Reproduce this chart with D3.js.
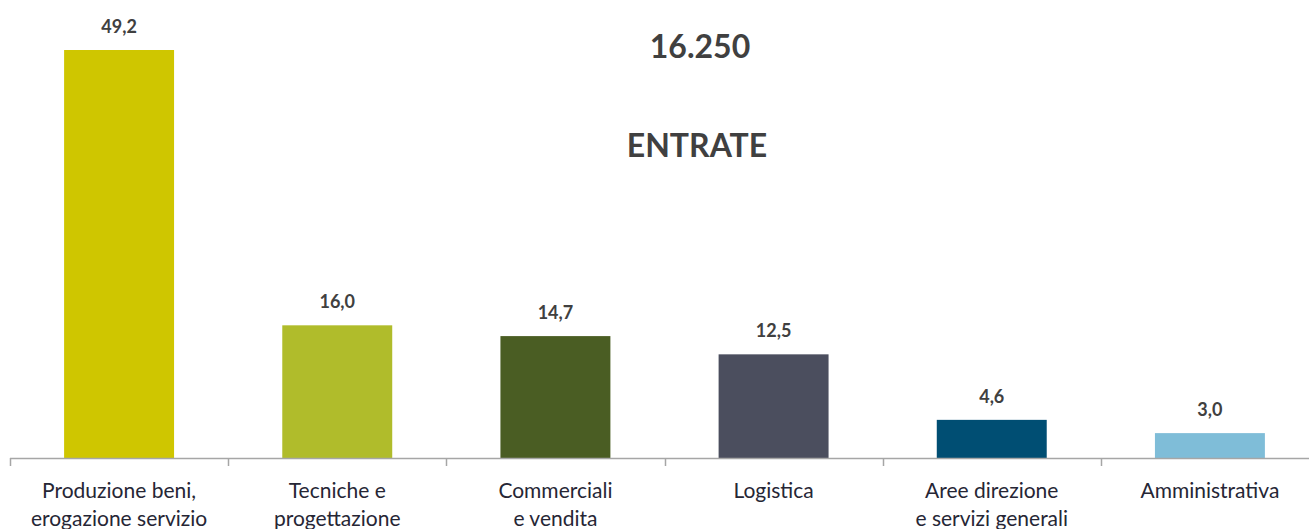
<!DOCTYPE html>
<html>
<head>
<meta charset="utf-8">
<script src="https://cdn.jsdelivr.net/npm/d3@7"></script>
<style>
    body { margin: 0; background: #fff; }
    svg text { font-family: Lato, "Open Sans", sans-serif; }
</style>
</head>
<body>
<div class="chart-container"></div>
<script>
const categories = [
    ['Produzione beni,', 'erogazione servizio'],
    ['Tecniche e', 'progettazione'],
    ['Commerciali', 'e vendita'],
    ['Logistica'],
    ['Aree direzione', 'e servizi generali'],
    ['Amministrativa'],
];
const values = [49.2, 16.0, 14.7, 12.5, 4.6, 3.0];
const barColors = ['#CFC600', '#B0BC2B', '#4A5D23', '#4B4E5E', '#004E73', '#7FBDD8'];
const totalLabel = '16.250';
const titleLabel = 'ENTRATE';

const width = 1309;
const height = 529;
const baseY = 458;

const svg = d3.select('.chart-container').append('svg')
    .attr('width', width)
    .attr('height', height);

const keys = categories.map((c, i) => i);

const x = d3.scaleBand()
    .domain(keys)
    .range([10, 1319])
    .paddingInner(0.496)
    .paddingOuter(0.248);

const y = d3.scaleLinear()
    .domain([0, 49.2])
    .range([baseY, 50]);

// bars
svg.append('g').selectAll('rect')
    .data(values)
    .enter()
    .append('rect')
    .attr('x', (d, i) => x(i))
    .attr('y', (d) => y(d))
    .attr('width', x.bandwidth())
    .attr('height', (d) => baseY - y(d))
    .attr('fill', (d, i) => barColors[i]);

// value labels
svg.append('g').selectAll('text')
    .data(values)
    .enter()
    .append('text')
    .attr('x', (d, i) => x(i) + x.bandwidth() / 2)
    .attr('y', (d) => y(d) - 17)
    .attr('text-anchor', 'middle')
    .attr('font-size', 18)
    .attr('font-weight', 'bold')
    .attr('fill', '#404040')
    .text((d) => d.toFixed(1).replace('.', ','));

// axis line and ticks
const step = x.step();
const axis = svg.append('g');
axis.append('line')
    .attr('x1', 10).attr('x2', width)
    .attr('y1', baseY + 0.5).attr('y2', baseY + 0.5)
    .attr('stroke', '#A6A6A6')
    .attr('stroke-width', 1.5);
axis.selectAll('.tick')
    .data(d3.range(keys.length + 1))
    .enter()
    .append('line')
    .attr('class', 'tick')
    .attr('x1', (d) => Math.round(10 + d * step) + 0.5)
    .attr('x2', (d) => Math.round(10 + d * step) + 0.5)
    .attr('y1', baseY)
    .attr('y2', baseY + 8)
    .attr('stroke', '#A6A6A6')
    .attr('stroke-width', 1.5);

// category labels
const catLabels = svg.append('g').selectAll('text')
    .data(categories)
    .enter()
    .append('text')
    .attr('x', (d, i) => x(i) + x.bandwidth() / 2)
    .attr('y', 498)
    .attr('text-anchor', 'middle')
    .attr('font-size', 21)
    .attr('fill', '#262635');
catLabels.selectAll('tspan')
    .data((d) => d)
    .enter()
    .append('tspan')
    .attr('x', function () { return d3.select(this.parentNode).attr('x'); })
    .attr('dy', (d, i) => (i === 0 ? 0 : 28))
    .text((d) => d);

// titles
svg.append('text')
    .attr('x', 700)
    .attr('y', 58)
    .attr('text-anchor', 'middle')
    .attr('font-size', 32)
    .attr('font-weight', 'bold')
    .attr('fill', '#404040')
    .text(totalLabel);
svg.append('text')
    .attr('x', 697)
    .attr('y', 157)
    .attr('text-anchor', 'middle')
    .attr('font-size', 32)
    .attr('font-weight', 'bold')
    .attr('fill', '#404040')
    .text(titleLabel);
</script>
</body>
</html>
